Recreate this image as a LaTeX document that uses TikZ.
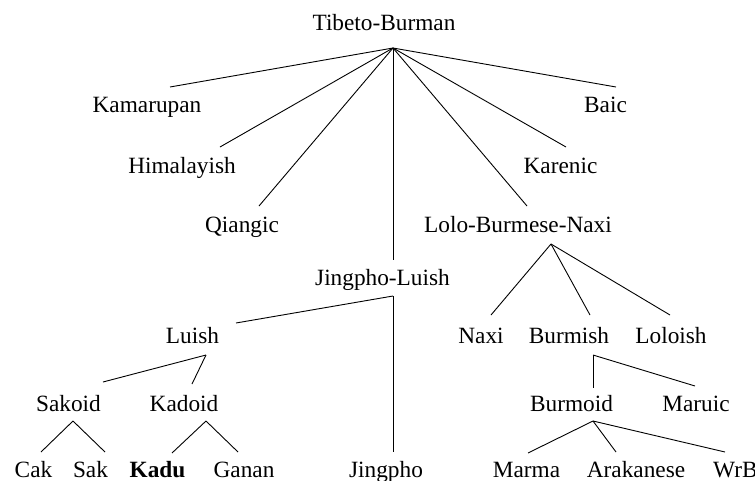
\documentclass[tikz,border=0pt]{standalone}
\usepackage{fontspec}
\setmainfont{Liberation Serif}
\begin{document}
\begin{tikzpicture}[x=1pt,y=-1pt,
  lbl/.style={inner sep=0pt,anchor=base,font=\fontsize{23.3}{28}\selectfont},
  edge/.style={line width=0.9pt,black}]
\useasboundingbox (0,0) rectangle (755,480);
% labels
\node[lbl] (tb) at (384,30) {Tibeto-Burman};
\node[lbl] (kam) at (147,112) {Kamarupan};
\node[lbl] (him) at (182,173) {Himalayish};
\node[lbl] (qia) at (242,232) {Qiangic};
\node[lbl] (bai) at (605.5,112) {Baic};
\node[lbl] (kar) at (560.5,173) {Karenic};
\node[lbl] (lbn) at (518,232) {Lolo-Burmese-Naxi};
\node[lbl] (jl) at (382.5,285) {Jingpho-Luish};
\node[lbl] (lui) at (192.5,343) {Luish};
\node[lbl] (nax) at (481,343) {Naxi};
\node[lbl] (bum) at (569,343) {Burmish};
\node[lbl] (lol) at (671,343) {Loloish};
\node[lbl] (sko) at (68.5,411) {Sakoid};
\node[lbl] (kdo) at (184,411) {Kadoid};
\node[lbl] (bmo) at (571.5,411) {Burmoid};
\node[lbl] (mar) at (696,411) {Maruic};
\node[lbl] (cak) at (33.5,477) {Cak};
\node[lbl] (sak) at (90.5,477) {Sak};
\node[lbl] (kad) at (157.5,477) {\textbf{Kadu}};
\node[lbl] (gan) at (244,477) {Ganan};
\node[lbl] (jin) at (386,477) {Jingpho};
\node[lbl] (mrm) at (526.5,477) {Marma};
\node[lbl] (ara) at (636,477) {Arakanese};
\node[lbl,anchor=base west] (wrb) at (713,477) {WrB};
% junction points below parents
\coordinate (tb-j) at (393,48);
\coordinate (jl-j) at (393,296);
\coordinate (lui-j) at (206,355);
\coordinate (sko-j) at (73,421);
\coordinate (kdo-j) at (206,421);
\coordinate (lbn-j) at (551,244);
\coordinate (bum-j) at (593,355);
\coordinate (bmo-j) at (593,421);
% attachment points above children
\coordinate (kam-t) at (170,87);
\coordinate (him-t) at (220,147);
\coordinate (qia-t) at (259,206);
\coordinate (jl-t) at (393,260);
\coordinate (lbn-t) at (527,206);
\coordinate (kar-t) at (566,147);
\coordinate (bai-t) at (616,87);
\coordinate (lui-t) at (236,323);
\coordinate (jin-t) at (393,452);
\coordinate (sko-t) at (103,382);
\coordinate (kdo-t) at (192,384);
\coordinate (cak-t) at (41,452);
\coordinate (sak-t) at (105,452);
\coordinate (kad-t) at (172,453);
\coordinate (gan-t) at (238,452);
\coordinate (nax-t) at (491,315);
\coordinate (bum-t) at (590,315);
\coordinate (lol-t) at (670,315);
\coordinate (bmo-t) at (593,388);
\coordinate (mar-t) at (695,386);
\coordinate (mrm-t) at (528,453);
\coordinate (ara-t) at (616,452);
\coordinate (wrb-t) at (725,452);
% edges
\foreach \c in {kam,him,qia,jl,lbn,kar,bai} \draw[edge] (tb-j) -- (\c-t);
\foreach \c in {lui,jin} \draw[edge] (jl-j) -- (\c-t);
\foreach \c in {sko,kdo} \draw[edge] (lui-j) -- (\c-t);
\foreach \c in {cak,sak} \draw[edge] (sko-j) -- (\c-t);
\foreach \c in {kad,gan} \draw[edge] (kdo-j) -- (\c-t);
\foreach \c in {nax,bum,lol} \draw[edge] (lbn-j) -- (\c-t);
\foreach \c in {bmo,mar} \draw[edge] (bum-j) -- (\c-t);
\foreach \c in {mrm,ara,wrb} \draw[edge] (bmo-j) -- (\c-t);
\end{tikzpicture}
\end{document}
